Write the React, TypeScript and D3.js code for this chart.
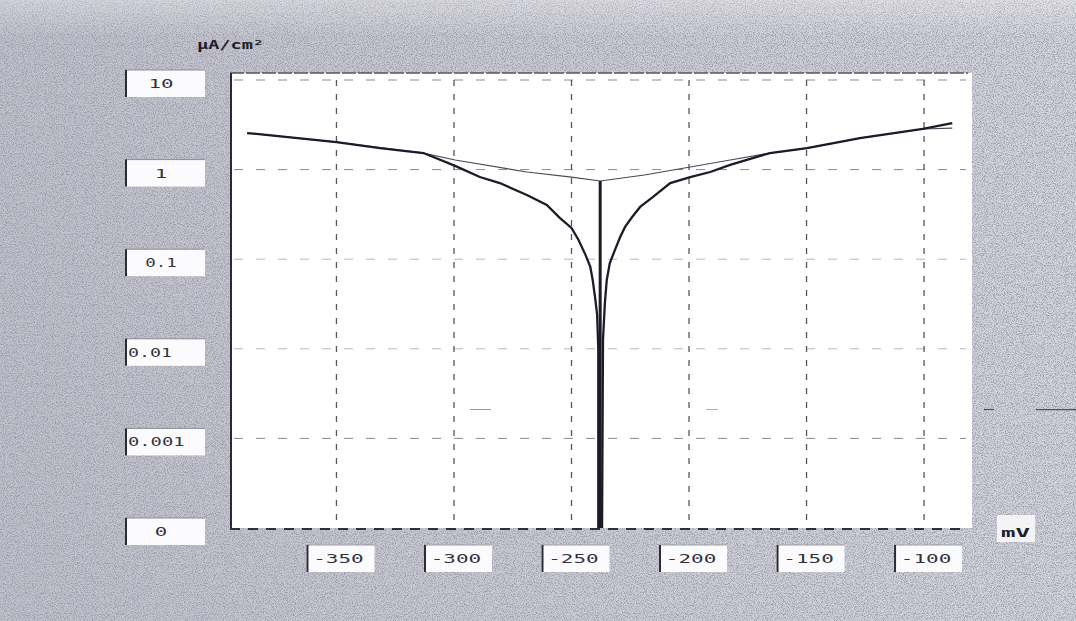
import React from "react";
import * as d3 from "d3";

const W = 1076;
const H = 621;

// Potential axis (mV) and current density axis (µA/cm²)
const potentialTicks = [-350, -300, -250, -200, -150, -100];
const currentTicks = [10, 1, 0.1, 0.01, 0.001, 0.0001];
const currentTickLabels = ["10", "1", "0.1", "0.01", "0.001", "0"];

// Measured polarization curve, cathodic branch (mV, µA/cm²)
const cathodicE = [-388, -350, -331.5, -313, -299.5, -289, -280.5, -269, -260.5, -255, -250, -247, -244, -242, -241, -240, -239.1, -238.6, -238.6];
const cathodicI = [2.56, 2.03, 1.74, 1.53, 1.1, 0.826, 0.708, 0.521, 0.403, 0.289, 0.223, 0.164, 0.111, 0.082, 0.059, 0.038, 0.024, 0.0098, 0.0001];

// Measured polarization curve, anodic branch (mV, µA/cm²)
const anodicE = [-237, -236.6, -235.8, -235, -233.7, -231.5, -229.3, -227.2, -224.2, -220.8, -215.3, -208, -199.5, -191, -182.5, -165.6, -149.8, -127.3, -100.5, -88];
const anodicI = [0.0001, 0.0126, 0.0324, 0.0586, 0.0908, 0.127, 0.177, 0.229, 0.296, 0.383, 0.495, 0.708, 0.826, 0.94, 1.13, 1.53, 1.74, 2.25, 2.84, 3.31];

// Tafel fit curve (mV, µA/cm²)
const fitE = [-388, -350, -313, -299.5, -269, -250, -237.8, -219, -199.5, -182.5, -165.6, -149.8, -127.3, -100.5, -88];
const fitI = [2.56, 2.03, 1.53, 1.28, 0.94, 0.826, 0.746, 0.87, 1.07, 1.28, 1.53, 1.74, 2.25, 2.84, 2.91];

// Corrosion potential and the fit value there
const corrosionE = -237.8;
const corrosionI = 0.746;

const labelWidth = (s: string) =>
  s.split("").reduce((w, c) => w + (c === "." ? 6.5 : c === "-" ? 13 : 12.5), 0);

export default function App() {
  const plotLeft = 230;
  const plotRight = 972;
  const plotTop = 73;
  const x = d3.scaleLinear().domain([-395.3, -79.6]).range([plotLeft, plotRight]);
  const y = d3.scaleLog().domain([0.0001, 10]).range([528, 80]);
  const yBottom = y(0.0001);

  const line = d3
    .line<[number, number]>()
    .x((d) => x(d[0]))
    .y((d) => y(d[1]));

  const zip = (a: number[], b: number[]) => a.map((v, i) => [v, b[i]] as [number, number]);

  const gridRight = 966;
  const font = "'DejaVu Sans Mono', monospace";
  const strayY = y(0.0021);

  return (
    <svg
      width={W}
      height={H}
      viewBox={`0 0 ${W} ${H}`}
      style={{ position: "absolute", left: 0, top: 0, display: "block" }}
    >
      <defs>
        <linearGradient id="paper" x1="0" x2="1" y1="0" y2="0">
          <stop offset="0" stopColor="#c2c2cc" />
          <stop offset="0.55" stopColor="#cdcdd5" />
          <stop offset="1" stopColor="#d5d5dd" />
        </linearGradient>
        <linearGradient id="paperTop" x1="0" x2="0" y1="0" y2="1">
          <stop offset="0" stopColor="#ffffff" stopOpacity="0.3" />
          <stop offset="0.06" stopColor="#ffffff" stopOpacity="0" />
        </linearGradient>
        <filter id="grain" x="0" y="0" width="100%" height="100%" filterUnits="userSpaceOnUse">
          <feTurbulence type="fractalNoise" baseFrequency="0.9" numOctaves="2" seed="7" result="n" />
          <feColorMatrix
            in="n"
            type="matrix"
            values="0 0 0 0 0.3  0 0 0 0 0.3  0 0 0 0 0.38  3.6 0 0 0 -1.55"
          />
        </filter>
      </defs>

      {/* paper background with grain */}
      <rect x={0} y={0} width={W} height={H} fill="url(#paper)" />
      <rect x={0} y={0} width={W} height={H} fill="#000" filter="url(#grain)" opacity={0.85} />
      <rect x={0} y={0} width={W} height={H} fill="url(#paperTop)" />

      {/* plot area */}
      <rect x={plotLeft} y={plotTop} width={plotRight - plotLeft} height={yBottom - plotTop} fill="#ffffff" />
      <line x1={plotLeft} x2={gridRight + 2} y1={plotTop} y2={plotTop} stroke="#55555f" strokeWidth={1.5} strokeDasharray="14,2" />

      {/* horizontal grid */}
      {currentTicks.slice(0, -1).map((v) => (
        <line
          key={`hg${v}`}
          x1={plotLeft + 4}
          x2={gridRight}
          y1={y(v)}
          y2={y(v)}
          stroke={v >= 1 || v === 0.001 ? "#8a8a92" : "#b8b8bf"}
          strokeWidth={1}
          strokeDasharray="9,13"
        />
      ))}

      {/* vertical grid */}
      {potentialTicks.map((v) => (
        <line
          key={`vg${v}`}
          x1={x(v)}
          x2={x(v)}
          y1={y(10)}
          y2={yBottom}
          stroke="#55555e"
          strokeWidth={1.3}
          strokeDasharray="6,8"
        />
      ))}

      {/* faint stray trace between 0.01 and 0.001 */}
      <line x1={470} x2={491} y1={strayY} y2={strayY} stroke="#9a9aa4" strokeWidth={1} />
      <line x1={706} x2={718} y1={strayY} y2={strayY} stroke="#b0b0b8" strokeWidth={1} />
      <line x1={984} x2={994} y1={strayY} y2={strayY} stroke="#50505a" strokeWidth={1.2} />
      <line x1={1036} x2={1076} y1={strayY} y2={strayY} stroke="#50505a" strokeWidth={1.2} />

      {/* axes */}
      <line x1={plotLeft + 1} x2={plotLeft + 1} y1={plotTop} y2={yBottom + 1} stroke="#2a2a34" strokeWidth={2} />
      <line x1={plotLeft} x2={gridRight} y1={yBottom + 1} y2={yBottom + 1} stroke="#30303a" strokeWidth={2} strokeDasharray="10,8" />

      {/* Tafel fit */}
      <path d={line(zip(fitE, fitI)) ?? ""} fill="none" stroke="#4a4a56" strokeWidth={1.2} />
      <line
        x1={x(corrosionE)}
        x2={x(corrosionE)}
        y1={y(corrosionI)}
        y2={yBottom}
        stroke="#1c1c26"
        strokeWidth={3}
      />

      {/* measured curve */}
      <path d={line(zip(cathodicE, cathodicI)) ?? ""} fill="none" stroke="#1c1c28" strokeWidth={2.3} />
      <path d={line(zip(anodicE, anodicI)) ?? ""} fill="none" stroke="#1c1c28" strokeWidth={2.3} />

      {/* current density labels */}
      {currentTicks.map((v, i) => {
        const label = currentTickLabels[i];
        const cy = y(v) + 3.5;
        const wide = label.length >= 4;
        return (
          <g key={`yl${v}`}>
            <rect x={125} y={cy - 13.5} width={80} height={27} fill="#fbfbfd" />
            <line x1={125} x2={205} y1={cy - 13.5} y2={cy - 13.5} stroke="#8c8c96" strokeWidth={1} />
            <line x1={126} x2={126} y1={cy - 13.5} y2={cy + 13.5} stroke="#2c2c36" strokeWidth={2} />
            <text
              x={wide ? 128 : 161}
              y={cy + 4.5}
              textAnchor={wide ? "start" : "middle"}
              fontFamily={font}
              fontSize={13}
              fill="#33333d"
              textLength={labelWidth(label)}
              lengthAdjust="spacingAndGlyphs"
            >
              {label}
            </text>
          </g>
        );
      })}

      {/* potential labels */}
      {potentialTicks.map((v) => {
        const px = x(v);
        const label = String(v);
        return (
          <g key={`xl${v}`}>
            <rect x={px - 30} y={545} width={68} height={27} fill="#fbfbfd" />
            <line x1={px - 30} x2={px + 38} y1={545} y2={545} stroke="#a0a0aa" strokeWidth={1} />
            <line x1={px - 29} x2={px - 29} y1={545} y2={572} stroke="#2c2c36" strokeWidth={2} />
            <text
              x={px + 2}
              y={563}
              textAnchor="middle"
              fontFamily={font}
              fontSize={13}
              fill="#33333d"
              textLength={labelWidth(label)}
              lengthAdjust="spacingAndGlyphs"
            >
              {label}
            </text>
          </g>
        );
      })}

      {/* axis units */}
      <text
        x={197}
        y={49}
        fontFamily={font}
        fontSize={12}
        fontWeight="bold"
        fill="#1e1e28"
        textLength={67}
        lengthAdjust="spacingAndGlyphs"
      >
        µA/cm²
      </text>
      <rect x={997} y={515} width={38} height={27} fill="#fbfbfd" opacity={0.85} />
      <text
        x={1001}
        y={537}
        fontFamily={font}
        fontSize={12}
        fontWeight="bold"
        fill="#1e1e28"
        textLength={29}
        lengthAdjust="spacingAndGlyphs"
      >
        mV
      </text>
    </svg>
  );
}
